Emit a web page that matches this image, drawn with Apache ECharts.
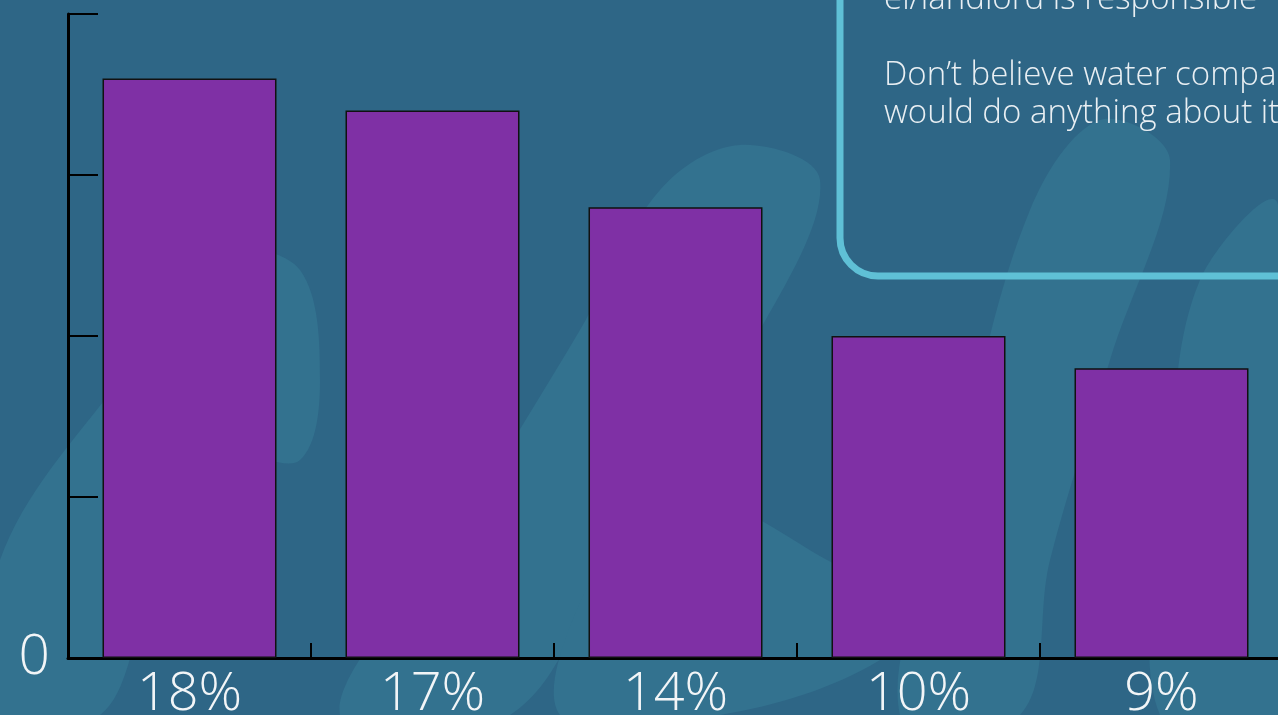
<!DOCTYPE html>
<html><head><meta charset="utf-8">
<script src="https://cdn.jsdelivr.net/npm/echarts@6/dist/echarts.min.js"></script>
<style>html,body{margin:0;padding:0;background:#2e6686;overflow:hidden;}#c{width:1278px;height:715px;}</style>
</head><body><div id="c"></div>
<script>
const categories = ['18%', '17%', '14%', '10%', '9%'];
const values = [18, 17, 14, 10, 9];
const boxLines = ['el/landlord is responsible', '', 'Don\u2019t believe water company', 'would do anything about it'];

const chart = echarts.init(document.getElementById('c'));
const bgShape = '#33728f';
function blob(points) {
  return { type: 'polygon', z: -10, shape: { points: points, smooth: 0.35 }, style: { fill: bgShape } };
}
chart.setOption({
  backgroundColor: '#2e6686',
  animation: false,
  grid: { left: 68, top: 14, height: 644, width: 1215, containLabel: false, outerBoundsMode: 'none' },
  xAxis: {
    type: 'category', data: categories,
    axisLine: { lineStyle: { color: '#000', width: 3 } },
    axisTick: { show: true, inside: true, length: 15, lineStyle: { color: '#000', width: 2 } },
    axisLabel: { color: '#f2f5f7', fontSize: 54, fontFamily: 'Open Sans', fontWeight: 300, margin: 10 }
  },
  yAxis: {
    type: 'value', min: 0, max: 20, interval: 5,
    axisLine: { show: true, lineStyle: { color: '#000', width: 3 } },
    axisTick: { show: true, inside: true, length: 30, lineStyle: { color: '#000', width: 2 } },
    splitLine: { show: false },
    axisLabel: { color: '#f2f5f7', fontSize: 55, fontFamily: 'Open Sans', fontWeight: 300, margin: 18,
      formatter: v => v === 0 ? '0' : '' }
  },
  series: [{
    type: 'bar', data: values, barCategoryGap: '28.4%',
    itemStyle: { color: '#7f30a5', borderColor: '#111', borderWidth: 1.5 }
  }],
  graphic: [
    blob([[0,715],[0,560],[120,380],[230,255],[300,270],[320,380],[300,460],[230,460],[150,600],[100,715]]),
    blob([[340,715],[470,510],[580,330],[660,190],[740,145],[820,180],[760,330],[620,540],[510,715]]),
    blob([[560,715],[600,560],[680,470],[760,520],[880,580],[980,560],[880,660],[720,715]]),
    blob([[900,715],[960,460],[1030,210],[1100,120],[1170,160],[1110,360],[1050,560],[1020,715]]),
    blob([[1160,715],[1170,460],[1200,280],[1278,205],[1278,715]]),
    { type: 'rect', z: 5, shape: { x: 840, y: -60, width: 520, height: 336, r: 38 },
      style: { fill: 'transparent', stroke: '#5fc0d6', lineWidth: 7 } },
    { type: 'text', z: 6, left: 884, top: -19,
      style: { text: boxLines.join('\n'), fill: '#e9eff3', font: '300 33px "Open Sans"', lineHeight: 38 } }
  ]
});
</script></body></html>
